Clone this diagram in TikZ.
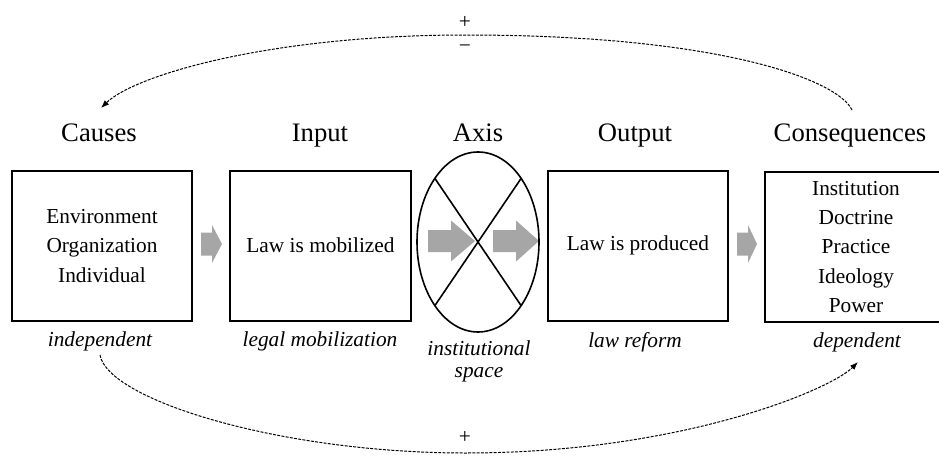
\documentclass[tikz,border=0pt]{standalone}
\usepackage{fontspec}
\setmainfont{Liberation Serif}
\usetikzlibrary{shapes.geometric,arrows.meta,calc}
\definecolor{arrgray}{RGB}{166,166,166}
\begin{document}
\begin{tikzpicture}[x=0.75pt,y=-0.75pt,
  box/.style={draw, line width=1.5pt, minimum width=135pt, minimum height=112.5pt, inner sep=0pt, align=center, font=\fontsize{16}{21.8}\selectfont},
  title/.style={anchor=base, font=\fontsize{20}{24}\selectfont},
  lab/.style={anchor=base, font=\fontsize{16}{19}\selectfont\itshape},
  sign/.style={font=\fontsize{16}{19}\selectfont},
  fb/.style={line width=0.75pt, dash pattern=on 2.2pt off 1pt, -{Latex[length=6pt,width=4.5pt]}},
  xline/.style={line width=1.2pt},
  blk/.style={fill=arrgray}]
\useasboundingbox (0,0) rectangle (939,464);

% boxes
\node[box] (b1) at (102,246) {Environment\\Organization\\Individual};
\node[box, minimum width=135.75pt] (b2) at (320.5,245.5) {Law is mobilized};
\node[box] (b3) at (638,245.5) {Law is produced};
\node[box, minimum width=136.5pt] (b4) at (856,247) {Institution\\Doctrine\\Practice\\Ideology\\Power};

% gray block arrows
\fill[blk] (201,232.5) -- (212,232.5) -- (212,225) -- (222,244) -- (212,263) -- (212,255.5) -- (201,255.5) -- cycle;
\fill[blk] (737,232.5) -- (748,232.5) -- (748,225) -- (757,244) -- (748,263) -- (748,255.5) -- (737,255.5) -- cycle;
\fill[blk] (428,230) -- (451,230) -- (451,220.5) -- (475,241) -- (451,261.5) -- (451,252) -- (428,252) -- cycle;
\fill[blk] (493,230) -- (516,230) -- (516,220.5) -- (539,241) -- (516,261.5) -- (516,252) -- (493,252) -- cycle;

% axis ellipse
\node[draw, ellipse, line width=1.2pt, minimum width=91.5pt, minimum height=135pt, inner sep=0pt] (ax) at (478,242) {};
\coordinate (e1) at ($(ax.center)+(-43.1,-63.6)$);
\coordinate (e2) at ($(ax.center)+(43.1,-63.6)$);
\coordinate (e3) at ($(ax.center)+(-43.1,63.6)$);
\coordinate (e4) at ($(ax.center)+(43.1,63.6)$);
\draw[xline] (e1) -- (e4);
\draw[xline] (e2) -- (e3);

% titles
\node[title] (tcauses) at (99,141) {Causes};
\node[title] (tinput) at (320,141) {Input};
\node[title] (taxis) at (478,141) {Axis};
\node[title] (toutput) at (635,141) {Output};
\node[title] (tcons) at (850,141) {Consequences};

% italic labels
\node[lab] (lindep) at (100,346) {independent};
\node[lab] (llegal) at (320,346) {legal mobilization};
\node[lab] (linst) at (479,355) {institutional};
\node[lab] (lspace) at (479,377) {space};
\node[lab] (llaw) at (635,347) {law reform};
\node[lab] (ldep) at (857,347) {dependent};

% signs
\node[sign] (ptop) at (465,22) {+};
\node[sign] (mtop) at (465,49) {−};
\node[sign] (pbot) at (465,437) {+};

% feedback curves
\coordinate (topR) at (852,110);
\coordinate (topM) at (466,35);
\coordinate (topL) at (101,108);
\coordinate (botL) at (100,355);
\coordinate (botM) at (466,453);
\coordinate (botR) at (858,362);
\draw[fb] (topR) .. controls (838,80) and (720,35) .. (topM) .. controls (270,35) and (135,75) .. (topL);
\draw[fb] (botL) .. controls (108,400) and (280,453) .. (botM) .. controls (680,453) and (830,390) .. (botR);
\end{tikzpicture}
\end{document}
